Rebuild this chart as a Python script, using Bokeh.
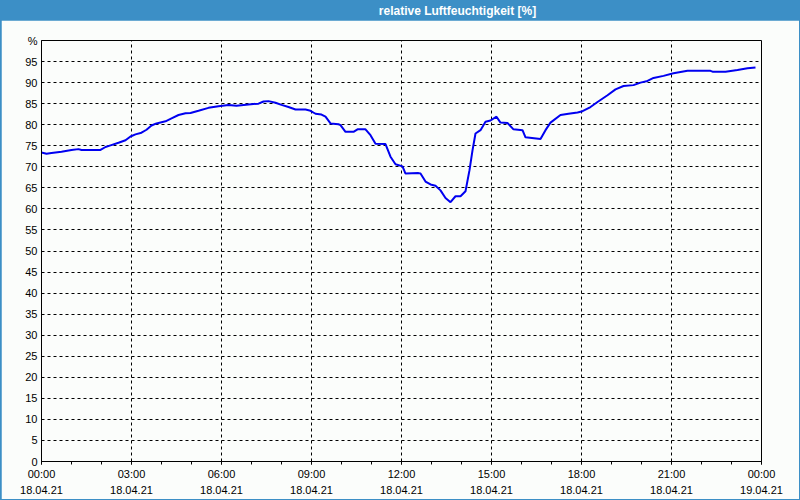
from bokeh.plotting import figure
from bokeh.models import FixedTicker, Label, Range1d
from bokeh.layouts import column
from bokeh.embed import file_html
from bokeh.resources import INLINE

# ---- data ----
minutes = [0, 10, 20, 40, 60, 74, 80, 118, 128, 138, 154, 168, 178, 188, 200, 210,
           220, 230, 248, 260, 274, 288, 298, 314, 334, 354, 374, 390, 414, 434, 444,
           454, 468, 480, 494, 508, 528, 538, 548, 560, 568, 578, 594, 598, 608, 624,
           632, 648, 658, 668, 688, 698, 708, 722, 728, 754, 758, 768, 778, 788, 798,
           808, 818, 828, 838, 848, 856, 862, 868, 878, 888, 898, 910, 918, 932, 944,
           962, 968, 998, 1008, 1018, 1038, 1054, 1072, 1082, 1098, 1112, 1132, 1148,
           1164, 1184, 1198, 1212, 1224, 1244, 1264, 1292, 1338, 1342, 1368, 1392,
           1412, 1428]
humidity = [73.4, 73.1, 73.3, 73.6, 74.0, 74.2, 74.0, 74.0, 74.7, 75.1, 75.7, 76.3,
            77.2, 77.7, 78.1, 78.8, 79.8, 80.3, 80.8, 81.5, 82.3, 82.7, 82.8, 83.3,
            84.0, 84.4, 84.7, 84.5, 84.8, 85.0, 85.5, 85.6, 85.2, 84.7, 84.2, 83.6,
            83.6, 83.3, 82.6, 82.4, 81.9, 80.3, 80.1, 79.9, 78.3, 78.3, 78.9, 78.9,
            77.5, 75.5, 75.4, 72.4, 70.6, 70.1, 68.4, 68.5, 68.4, 66.5, 65.8, 65.5,
            64.4, 62.6, 61.6, 63.0, 63.0, 64.2, 69.2, 73.9, 77.9, 78.7, 80.7, 81.0,
            81.9, 80.5, 80.4, 78.9, 78.7, 77.0, 76.6, 78.7, 80.5, 82.3, 82.6, 82.9,
            83.2, 84.2, 85.4, 87.0, 88.4, 89.2, 89.4, 90.0, 90.4, 91.1, 91.6, 92.2,
            92.8, 92.8, 92.6, 92.6, 93.0, 93.4, 93.6]

x_ticks = [0, 3, 6, 9, 12, 15, 18, 21, 24]
x_time_labels = ["00:00", "03:00", "06:00", "09:00", "12:00", "15:00", "18:00", "21:00", "00:00"]
x_date_labels = ["18.04.21"] * 8 + ["19.04.21"]
y_ticks = list(range(0, 101, 5))
y_top_label = "%"
title_text = "relative Luftfeuchtigkeit [%]"

hours = [m / 60.0 for m in minutes]

BLUE = "#3c8fc6"
BG = "#fbfdfb"
FONT = "Liberation Sans"

# ---- title bar ----
hdr = figure(width=798, height=20, toolbar_location=None, output_backend="svg",
             x_range=Range1d(0, 798), y_range=Range1d(0, 20),
             min_border=0, min_border_left=0, min_border_right=0,
             min_border_top=0, min_border_bottom=0)
hdr.axis.visible = False
hdr.grid.visible = False
hdr.outline_line_color = None
hdr.background_fill_color = BLUE
hdr.border_fill_color = BLUE
hdr.add_layout(Label(x=416, y=10, x_units="screen", y_units="screen", text=title_text,
                     text_color="white", text_font=FONT, text_font_style="bold",
                     text_font_size="12px", text_align="center", text_baseline="middle"))

# ---- main chart ----
p = figure(width=798, height=479, toolbar_location=None, output_backend="svg",
           x_range=Range1d(0, 24), y_range=Range1d(0, 100),
           min_border_left=40, min_border_right=38, min_border_top=20, min_border_bottom=37)
p.background_fill_color = BG
p.border_fill_color = BG
p.outline_line_color = "black"
p.outline_line_width = 1

p.line(hours, humidity, line_color="#0000f0", line_width=2)

p.xaxis.ticker = FixedTicker(ticks=x_ticks, minor_ticks=list(range(0, 25)))
p.xaxis.major_label_overrides = {t: f"{a}\n{b}" for t, a, b in zip(x_ticks, x_time_labels, x_date_labels)}
p.yaxis.ticker = FixedTicker(ticks=y_ticks)
p.yaxis.major_label_overrides = {100: y_top_label}

for ax in (p.xaxis, p.yaxis):
    ax.axis_line_color = "black"
    ax.major_tick_line_color = "black"
    ax.minor_tick_line_color = "black"
    ax.major_tick_in = 0
    ax.minor_tick_in = 0
    ax.major_label_text_font = FONT
    ax.major_label_text_font_size = "11px"
    ax.major_label_text_color = "black"

p.xaxis.major_tick_out = 3
p.xaxis.minor_tick_out = 3
p.xaxis.major_label_standoff = 3
p.xaxis.major_label_text_line_height = 1.4
p.yaxis.major_tick_out = 0
p.yaxis.minor_tick_out = 0
p.yaxis.major_label_standoff = 4

for g in (p.xgrid, p.ygrid):
    g.grid_line_color = "black"
    g.grid_line_dash = "3 3"
    g.grid_line_width = 1
p.xgrid.ticker = FixedTicker(ticks=x_ticks)
p.ygrid.ticker = FixedTicker(ticks=y_ticks)

layout = column(hdr, p, spacing=0,
                styles={"border-left": f"1px solid {BLUE}", "border-right": f"1px solid {BLUE}",
                        "border-bottom": f"1px solid {BLUE}", "background-color": BLUE})

open("out.html", "w").write(file_html(layout, INLINE))
